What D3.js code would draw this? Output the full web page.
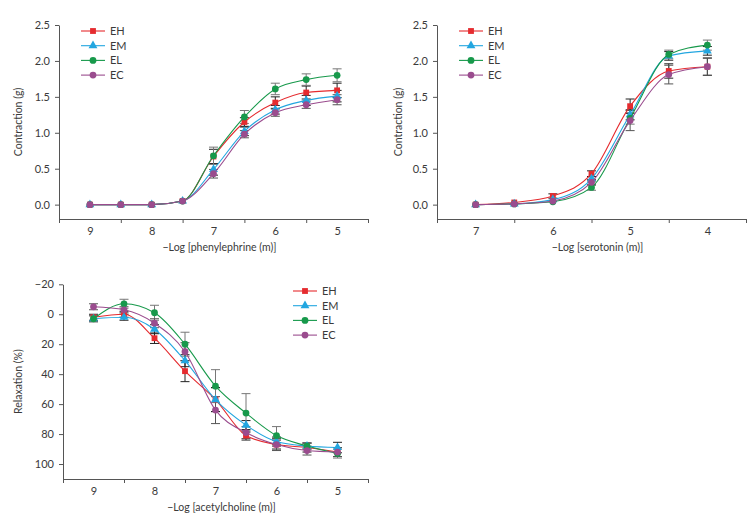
<!DOCTYPE html>
<html lang="en">
<head>
<meta charset="utf-8">
<title>Concentration-response curves</title>
<script src="https://d3js.org/d3.v7.min.js"></script>
<style>
  body { margin: 0; background: #fff; }
  svg text { font-family: Lato, "Open Sans", sans-serif; fill: #3a3a3a; }
  .axis path, .axis line { stroke: #555; }
</style>
</head>
<body>
<script>

// series names shared by all panels
var seriesNames = ["EH", "EM", "EL", "EC"]
var seriesColors = ["#e52b2f", "#22a6e0", "#17994b", "#9a4c8e"]
var errColors = ["#222", "#222", "#777", "#555"]

// panel A: phenylephrine
var pheX = [9, 8.5, 8, 7.5, 7, 6.5, 6, 5.5, 5]
var pheEH = [0, 0, 0, 0.05, 0.67, 1.15, 1.42, 1.56, 1.59]
var pheEM = [0, 0, 0, 0.05, 0.49, 1.02, 1.32, 1.45, 1.51]
var pheEL = [0, 0, 0, 0.05, 0.68, 1.22, 1.61, 1.74, 1.80]
var pheEC = [0, 0, 0, 0.05, 0.43, 0.98, 1.28, 1.39, 1.46]
var pheErrEH = [0, 0, 0, 0.01, 0.10, 0.06, 0.08, 0.09, 0.10]
var pheErrEM = [0, 0, 0, 0.01, 0.08, 0.06, 0.06, 0.07, 0.08]
var pheErrEL = [0, 0, 0, 0.01, 0.12, 0.09, 0.08, 0.08, 0.09]
var pheErrEC = [0, 0, 0, 0.01, 0.06, 0.05, 0.05, 0.05, 0.07]

// panel B: serotonin
var serX = [7, 6.5, 6, 5.5, 5, 4.5, 4]
var serEH = [0, 0.03, 0.12, 0.43, 1.37, 1.86, 1.92]
var serEM = [0, 0.01, 0.07, 0.36, 1.25, 2.07, 2.14]
var serEL = [0, 0.01, 0.04, 0.24, 1.20, 2.09, 2.22]
var serEC = [0, 0.01, 0.05, 0.31, 1.17, 1.81, 1.92]
var serErrEH = [0, 0.02, 0.03, 0.04, 0.10, 0.10, 0.12]
var serErrEM = [0, 0.01, 0.02, 0.03, 0.07, 0.06, 0.06]
var serErrEL = [0, 0.01, 0.02, 0.04, 0.08, 0.06, 0.07]
var serErrEC = [0, 0.01, 0.02, 0.04, 0.14, 0.13, 0.12]

// panel C: acetylcholine
var achX = [9, 8.5, 8, 7.5, 7, 6.5, 6, 5.5, 5]
var achEH = [2, 0, 16, 38, 57, 81, 87, 89, 92]
var achEM = [3, 2, 10, 31, 57, 74, 85, 88, 89]
var achEL = [3, -7, -1, 20, 48, 66, 81, 88, 93]
var achEC = [-5, -3, 6, 25, 64, 79, 87, 91, 92]
var achErrEH = [2, 2, 3.5, 7, 8, 3, 3, 3, 3]
var achErrEM = [2, 2, 3, 4, 8, 3, 3, 2, 3.5]
var achErrEL = [2, 3, 5, 8, 11, 13, 6, 2, 3]
var achErrEC = [2, 2, 3, 6, 9, 4, 4, 3, 3]

var svg = d3.select("body").append("svg").attr("width", 754).attr("height", 530)

function markerPath(i) {
    var types = [d3.symbolSquare, d3.symbolTriangle, d3.symbolCircle, d3.symbolCircle]
    var sizes = [34, 34, 36, 36]
    return d3.symbol().type(types[i]).size(sizes[i])()
}

function buildPanel(p) {
    var xScale = d3.scaleLinear().domain(p.xDomain).range(p.xRange)
    var yScale = d3.scaleLinear().domain(p.yDomain).range(p.yRange)
    var g = svg.append("g")

    // y axis
    g.append("g").attr("class", "axis")
        .attr("transform", "translate(" + p.xRange[0] + ",0)")
        .call(d3.axisLeft(yScale).tickValues(p.yTicks).tickFormat(p.yFormat).tickSize(4).tickSizeOuter(0).tickPadding(5))
        .call(function (a) { a.selectAll("text").style("font-size", "11px") })

    // x axis: ticks at half steps, labels in between
    var halfTicks = d3.range(p.xDomain[0], p.xDomain[1] - 0.01, -1)
    var axisY = p.yRange[0]
    g.append("g").attr("class", "axis")
        .attr("transform", "translate(0," + axisY + ")")
        .call(d3.axisBottom(xScale).tickValues(halfTicks).tickFormat("").tickSize(4).tickSizeOuter(0))
    g.append("g").attr("class", "axis")
        .attr("transform", "translate(0," + axisY + ")")
        .call(d3.axisBottom(xScale).tickValues(p.xLabels).tickFormat(d3.format("d")).tickSize(0).tickPadding(8))
        .call(function (a) { a.select(".domain").remove(); a.selectAll("text").style("font-size", "11px") })

    // axis titles
    g.append("text").attr("transform", "translate(" + p.yTitleX + "," + ((p.yRange[0] + p.yRange[1]) / 2) + ") rotate(-90)")
        .attr("text-anchor", "middle").style("font-size", "10.5px").text(p.yTitle)
    g.append("text").attr("x", (p.xRange[0] + p.xRange[1]) / 2 + 6).attr("y", axisY + 32)
        .attr("text-anchor", "middle").style("font-size", "10.5px").text(p.xTitle)

    var line = d3.line().curve(d3.curveMonotoneX)
        .x(function (d) { return xScale(d.x) })
        .y(function (d) { return yScale(d.y) })

    p.series.forEach(function (vals, i) {
        var pts = p.x.map(function (x, k) { return { x: x, y: vals[k], e: p.errs[i][k] } })

        // error bars
        var eb = g.append("g").selectAll("g").data(pts.filter(function (d) { return d.e > 0.02 * (p.yDomain[1] - p.yDomain[0]) / 2.7 })).join("g")
        eb.append("line").attr("x1", function (d) { return xScale(d.x) }).attr("x2", function (d) { return xScale(d.x) })
            .attr("y1", function (d) { return yScale(d.y - d.e) }).attr("y2", function (d) { return yScale(d.y + d.e) })
            .attr("stroke", errColors[i]).attr("stroke-width", 1)
        ;[-1, 1].forEach(function (s) {
            eb.append("line").attr("x1", function (d) { return xScale(d.x) - 4.5 }).attr("x2", function (d) { return xScale(d.x) + 4.5 })
                .attr("y1", function (d) { return yScale(d.y + s * d.e) }).attr("y2", function (d) { return yScale(d.y + s * d.e) })
                .attr("stroke", errColors[i]).attr("stroke-width", 1)
        })
    })

    p.series.forEach(function (vals, i) {
        var pts = p.x.map(function (x, k) { return { x: x, y: vals[k] } })
        g.append("path").datum(pts).attr("d", line).attr("fill", "none")
            .attr("stroke", seriesColors[i]).attr("stroke-width", 1.1)
        g.append("g").selectAll("path").data(pts).join("path")
            .attr("d", markerPath(i))
            .attr("transform", function (d) { return "translate(" + xScale(d.x) + "," + yScale(d.y) + ")" })
            .attr("fill", seriesColors[i])
    })

    // legend
    var leg = g.append("g").attr("transform", "translate(" + p.legendX + "," + p.legendY + ")")
    seriesNames.forEach(function (name, i) {
        var row = leg.append("g").attr("transform", "translate(0," + (i * 14.7) + ")")
        row.append("line").attr("x1", 0).attr("x2", 24).attr("stroke", seriesColors[i]).attr("stroke-width", 1.1)
        row.append("path").attr("d", markerPath(i)).attr("transform", "translate(12,0)").attr("fill", seriesColors[i])
        row.append("text").attr("x", 29).attr("dy", "0.36em").style("font-size", "11px").text(name)
    })
}

buildPanel({
    x: pheX, series: [pheEH, pheEM, pheEL, pheEC], errs: [pheErrEH, pheErrEM, pheErrEL, pheErrEC],
    xDomain: [9.5, 4.5], xRange: [59, 368], xLabels: [9, 8, 7, 6, 5],
    yDomain: [-0.2, 2.5], yRange: [219, 25], yTicks: [0, 0.5, 1, 1.5, 2, 2.5], yFormat: d3.format(".1f"),
    yTitle: "Contraction (g)", yTitleX: 22, xTitle: "\u2212Log [phenylephrine (m)]",
    legendX: 81, legendY: 31
})

buildPanel({
    x: serX, series: [serEH, serEM, serEL, serEC], errs: [serErrEH, serErrEM, serErrEL, serErrEC],
    xDomain: [7.5, 3.5], xRange: [437, 746], xLabels: [7, 6, 5, 4],
    yDomain: [-0.2, 2.5], yRange: [219, 25], yTicks: [0, 0.5, 1, 1.5, 2, 2.5], yFormat: d3.format(".1f"),
    yTitle: "Contraction (g)", yTitleX: 402, xTitle: "\u2212Log [serotonin (m)]",
    legendX: 459, legendY: 31
})

buildPanel({
    x: achX, series: [achEH, achEM, achEL, achEC], errs: [achErrEH, achErrEM, achErrEL, achErrEC],
    xDomain: [9.5, 4.5], xRange: [63, 368], xLabels: [9, 8, 7, 6, 5],
    yDomain: [110, -20], yRange: [479, 284.3], yTicks: [-20, 0, 20, 40, 60, 80, 100], yFormat: d3.format("d"),
    yTitle: "Relaxation (%)", yTitleX: 22, xTitle: "\u2212Log [acetylcholine (m)]",
    legendX: 293, legendY: 291
})

</script>
</body>
</html>
